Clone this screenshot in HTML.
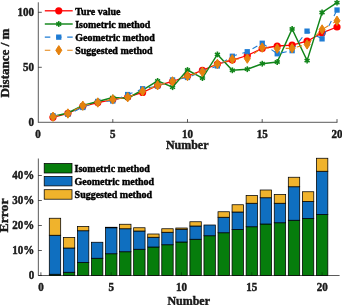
<!DOCTYPE html>
<html><head><meta charset="utf-8"><title>chart</title>
<style>html,body{margin:0;padding:0;background:#fff;}body{width:342px;height:305px;overflow:hidden;position:relative;font-family:"Liberation Serif",serif;}</style></head>
<body>
<svg width="342" height="305" viewBox="0 0 342 305" style="position:absolute;left:0;top:0;will-change:transform;font-family:'Liberation Serif',serif;font-weight:bold;">
<rect width="342" height="305" fill="#fff"/>
<g stroke="#1a1a1a" stroke-width="0.72" fill="none">
<line x1="38.3" y1="2.3" x2="38.3" y2="122.7"/>
<line x1="38.3" y1="122.3" x2="337.4" y2="122.3"/>
<line x1="112.8" y1="122.3" x2="112.8" y2="119.1"/>
<line x1="187.5" y1="122.3" x2="187.5" y2="119.1"/>
<line x1="262.2" y1="122.3" x2="262.2" y2="119.1"/>
<line x1="337.0" y1="122.3" x2="337.0" y2="119.1"/>
<line x1="38.3" y1="67.3" x2="41.8" y2="67.3"/>
<line x1="38.3" y1="12.3" x2="41.8" y2="12.3"/>
</g>
<text transform="translate(38.00,138.00) scale(1,1.08)" font-size="11" text-anchor="middle" fill="#1a1a1a" stroke="#1a1a1a" stroke-width="0.42">0</text>
<text transform="translate(112.75,138.00) scale(1,1.08)" font-size="11" text-anchor="middle" fill="#1a1a1a" stroke="#1a1a1a" stroke-width="0.42">5</text>
<text transform="translate(187.50,138.00) scale(1,1.08)" font-size="11" text-anchor="middle" fill="#1a1a1a" stroke="#1a1a1a" stroke-width="0.42">10</text>
<text transform="translate(262.25,138.00) scale(1,1.08)" font-size="11" text-anchor="middle" fill="#1a1a1a" stroke="#1a1a1a" stroke-width="0.42">15</text>
<text transform="translate(337.00,138.00) scale(1,1.08)" font-size="11" text-anchor="middle" fill="#1a1a1a" stroke="#1a1a1a" stroke-width="0.42">20</text>
<text transform="translate(34.00,126.30) scale(1,1.08)" font-size="11" text-anchor="end" fill="#1a1a1a" stroke="#1a1a1a" stroke-width="0.42">0</text>
<text transform="translate(34.00,71.30) scale(1,1.08)" font-size="11" text-anchor="end" fill="#1a1a1a" stroke="#1a1a1a" stroke-width="0.42">50</text>
<text transform="translate(34.00,16.30) scale(1,1.08)" font-size="11" text-anchor="end" fill="#1a1a1a" stroke="#1a1a1a" stroke-width="0.42">100</text>
<text transform="translate(187.20,148.60) scale(1,1.08)" font-size="12" text-anchor="middle" fill="#1a1a1a" stroke="#1a1a1a" stroke-width="0.42">Number</text>
<text transform="translate(9.2,63) rotate(-90) scale(1.08,1)" font-size="12.1" text-anchor="middle" fill="#1a1a1a" stroke="#1a1a1a" stroke-width="0.42">Distance / m</text>
<polyline points="53.0,117.3 67.9,113.4 82.8,106.3 97.8,102.6 112.8,99.6 127.7,97.0 142.6,92.4 157.6,85.5 172.5,81.5 187.5,76.0 202.4,70.3 217.4,64.0 232.3,60.0 247.3,55.5 262.2,48.5 277.2,46.0 292.1,45.2 307.1,41.2 322.1,32.9 337.0,27.0" fill="none" stroke="#ff0000" stroke-width="1.3"/>
<g fill="#ff0000"><circle cx="53.0" cy="117.3" r="3.6"/><circle cx="67.9" cy="113.4" r="3.6"/><circle cx="82.8" cy="106.3" r="3.6"/><circle cx="97.8" cy="102.6" r="3.6"/><circle cx="112.8" cy="99.6" r="3.6"/><circle cx="127.7" cy="97.0" r="3.6"/><circle cx="142.6" cy="92.4" r="3.6"/><circle cx="157.6" cy="85.5" r="3.6"/><circle cx="172.5" cy="81.5" r="3.6"/><circle cx="187.5" cy="76.0" r="3.6"/><circle cx="202.4" cy="70.3" r="3.6"/><circle cx="217.4" cy="64.0" r="3.6"/><circle cx="232.3" cy="60.0" r="3.6"/><circle cx="247.3" cy="55.5" r="3.6"/><circle cx="262.2" cy="48.5" r="3.6"/><circle cx="277.2" cy="46.0" r="3.6"/><circle cx="292.1" cy="45.2" r="3.6"/><circle cx="307.1" cy="41.2" r="3.6"/><circle cx="322.1" cy="32.9" r="3.6"/><circle cx="337.0" cy="27.0" r="3.6"/></g>
<polyline points="53.0,116.5 67.9,113.0 82.8,105.5 97.8,101.5 112.8,97.6 127.7,98.2 142.6,90.0 157.6,80.9 172.5,87.2 187.5,70.0 202.4,78.1 217.4,54.4 232.3,70.3 247.3,69.2 262.2,63.7 277.2,62.0 292.1,28.9 307.1,60.6 322.1,12.5 337.0,2.7" fill="none" stroke="#11851a" stroke-width="1.45"/>
<g stroke="#11851a" stroke-width="1.6"><line x1="52.95" y1="113.60" x2="52.95" y2="119.40"/><line x1="55.46" y1="115.05" x2="50.44" y2="117.95"/><line x1="55.46" y1="117.95" x2="50.44" y2="115.05"/><line x1="67.90" y1="110.10" x2="67.90" y2="115.90"/><line x1="70.41" y1="111.55" x2="65.39" y2="114.45"/><line x1="70.41" y1="114.45" x2="65.39" y2="111.55"/><line x1="82.85" y1="102.60" x2="82.85" y2="108.40"/><line x1="85.36" y1="104.05" x2="80.34" y2="106.95"/><line x1="85.36" y1="106.95" x2="80.34" y2="104.05"/><line x1="97.80" y1="98.60" x2="97.80" y2="104.40"/><line x1="100.31" y1="100.05" x2="95.29" y2="102.95"/><line x1="100.31" y1="102.95" x2="95.29" y2="100.05"/><line x1="112.75" y1="94.70" x2="112.75" y2="100.50"/><line x1="115.26" y1="96.15" x2="110.24" y2="99.05"/><line x1="115.26" y1="99.05" x2="110.24" y2="96.15"/><line x1="127.70" y1="95.30" x2="127.70" y2="101.10"/><line x1="130.21" y1="96.75" x2="125.19" y2="99.65"/><line x1="130.21" y1="99.65" x2="125.19" y2="96.75"/><line x1="142.65" y1="87.10" x2="142.65" y2="92.90"/><line x1="145.16" y1="88.55" x2="140.14" y2="91.45"/><line x1="145.16" y1="91.45" x2="140.14" y2="88.55"/><line x1="157.60" y1="78.00" x2="157.60" y2="83.80"/><line x1="160.11" y1="79.45" x2="155.09" y2="82.35"/><line x1="160.11" y1="82.35" x2="155.09" y2="79.45"/><line x1="172.55" y1="84.30" x2="172.55" y2="90.10"/><line x1="175.06" y1="85.75" x2="170.04" y2="88.65"/><line x1="175.06" y1="88.65" x2="170.04" y2="85.75"/><line x1="187.50" y1="67.10" x2="187.50" y2="72.90"/><line x1="190.01" y1="68.55" x2="184.99" y2="71.45"/><line x1="190.01" y1="71.45" x2="184.99" y2="68.55"/><line x1="202.45" y1="75.20" x2="202.45" y2="81.00"/><line x1="204.96" y1="76.65" x2="199.94" y2="79.55"/><line x1="204.96" y1="79.55" x2="199.94" y2="76.65"/><line x1="217.40" y1="51.50" x2="217.40" y2="57.30"/><line x1="219.91" y1="52.95" x2="214.89" y2="55.85"/><line x1="219.91" y1="55.85" x2="214.89" y2="52.95"/><line x1="232.35" y1="67.40" x2="232.35" y2="73.20"/><line x1="234.86" y1="68.85" x2="229.84" y2="71.75"/><line x1="234.86" y1="71.75" x2="229.84" y2="68.85"/><line x1="247.30" y1="66.30" x2="247.30" y2="72.10"/><line x1="249.81" y1="67.75" x2="244.79" y2="70.65"/><line x1="249.81" y1="70.65" x2="244.79" y2="67.75"/><line x1="262.25" y1="60.80" x2="262.25" y2="66.60"/><line x1="264.76" y1="62.25" x2="259.74" y2="65.15"/><line x1="264.76" y1="65.15" x2="259.74" y2="62.25"/><line x1="277.20" y1="59.10" x2="277.20" y2="64.90"/><line x1="279.71" y1="60.55" x2="274.69" y2="63.45"/><line x1="279.71" y1="63.45" x2="274.69" y2="60.55"/><line x1="292.15" y1="26.00" x2="292.15" y2="31.80"/><line x1="294.66" y1="27.45" x2="289.64" y2="30.35"/><line x1="294.66" y1="30.35" x2="289.64" y2="27.45"/><line x1="307.10" y1="57.70" x2="307.10" y2="63.50"/><line x1="309.61" y1="59.15" x2="304.59" y2="62.05"/><line x1="309.61" y1="62.05" x2="304.59" y2="59.15"/><line x1="322.05" y1="9.60" x2="322.05" y2="15.40"/><line x1="324.56" y1="11.05" x2="319.54" y2="13.95"/><line x1="324.56" y1="13.95" x2="319.54" y2="11.05"/><line x1="337.00" y1="-0.20" x2="337.00" y2="5.60"/><line x1="339.51" y1="1.25" x2="334.49" y2="4.15"/><line x1="339.51" y1="4.15" x2="334.49" y2="1.25"/></g>
<polyline points="53.0,115.8 67.9,114.3 82.8,107.4 97.8,101.5 112.8,101.0 127.7,94.6 142.6,88.8 157.6,86.0 172.5,80.0 187.5,77.5 202.4,71.5 217.4,65.9 232.3,56.2 247.3,51.7 262.2,43.2 277.2,53.7 292.1,50.6 307.1,31.1 322.1,38.9 337.0,10.1" fill="none" stroke="#1f7cd4" stroke-width="1.1" stroke-dasharray="5.5,5.7"/>
<g fill="#1f7cd4"><rect x="50.3" y="113.1" width="5.3" height="5.3"/><rect x="65.2" y="111.6" width="5.3" height="5.3"/><rect x="80.2" y="104.8" width="5.3" height="5.3"/><rect x="95.1" y="98.8" width="5.3" height="5.3"/><rect x="110.1" y="98.3" width="5.3" height="5.3"/><rect x="125.0" y="91.9" width="5.3" height="5.3"/><rect x="140.0" y="86.1" width="5.3" height="5.3"/><rect x="154.9" y="83.3" width="5.3" height="5.3"/><rect x="169.9" y="77.3" width="5.3" height="5.3"/><rect x="184.8" y="74.8" width="5.3" height="5.3"/><rect x="199.8" y="68.8" width="5.3" height="5.3"/><rect x="214.7" y="63.3" width="5.3" height="5.3"/><rect x="229.7" y="53.6" width="5.3" height="5.3"/><rect x="244.6" y="49.1" width="5.3" height="5.3"/><rect x="259.6" y="40.6" width="5.3" height="5.3"/><rect x="274.6" y="51.1" width="5.3" height="5.3"/><rect x="289.5" y="48.0" width="5.3" height="5.3"/><rect x="304.4" y="28.5" width="5.3" height="5.3"/><rect x="319.4" y="36.2" width="5.3" height="5.3"/><rect x="334.4" y="7.4" width="5.3" height="5.3"/></g>
<polyline points="53.0,116.7 67.9,113.5 82.8,105.7 97.8,102.5 112.8,99.4 127.7,97.2 142.6,91.3 157.6,85.3 172.5,81.4 187.5,76.0 202.4,71.9 217.4,63.9 232.3,59.3 247.3,58.6 262.2,47.6 277.2,48.6 292.1,48.2 307.1,44.4 322.1,29.5 337.0,20.8" fill="none" stroke="#e5820e" stroke-width="1.1" stroke-dasharray="5.5,5.7"/>
<g fill="#e5820e"><path d="M53.0 112.0 l3.0 4.7 l-3.0 4.7 l-3.0 -4.7 z" stroke="#e5820e" stroke-width="1" stroke-linejoin="round"/><path d="M67.9 108.8 l3.0 4.7 l-3.0 4.7 l-3.0 -4.7 z" stroke="#e5820e" stroke-width="1" stroke-linejoin="round"/><path d="M82.8 101.0 l3.0 4.7 l-3.0 4.7 l-3.0 -4.7 z" stroke="#e5820e" stroke-width="1" stroke-linejoin="round"/><path d="M97.8 97.8 l3.0 4.7 l-3.0 4.7 l-3.0 -4.7 z" stroke="#e5820e" stroke-width="1" stroke-linejoin="round"/><path d="M112.8 94.7 l3.0 4.7 l-3.0 4.7 l-3.0 -4.7 z" stroke="#e5820e" stroke-width="1" stroke-linejoin="round"/><path d="M127.7 92.5 l3.0 4.7 l-3.0 4.7 l-3.0 -4.7 z" stroke="#e5820e" stroke-width="1" stroke-linejoin="round"/><path d="M142.6 86.6 l3.0 4.7 l-3.0 4.7 l-3.0 -4.7 z" stroke="#e5820e" stroke-width="1" stroke-linejoin="round"/><path d="M157.6 80.6 l3.0 4.7 l-3.0 4.7 l-3.0 -4.7 z" stroke="#e5820e" stroke-width="1" stroke-linejoin="round"/><path d="M172.5 76.7 l3.0 4.7 l-3.0 4.7 l-3.0 -4.7 z" stroke="#e5820e" stroke-width="1" stroke-linejoin="round"/><path d="M187.5 71.3 l3.0 4.7 l-3.0 4.7 l-3.0 -4.7 z" stroke="#e5820e" stroke-width="1" stroke-linejoin="round"/><path d="M202.4 67.2 l3.0 4.7 l-3.0 4.7 l-3.0 -4.7 z" stroke="#e5820e" stroke-width="1" stroke-linejoin="round"/><path d="M217.4 59.2 l3.0 4.7 l-3.0 4.7 l-3.0 -4.7 z" stroke="#e5820e" stroke-width="1" stroke-linejoin="round"/><path d="M232.3 54.6 l3.0 4.7 l-3.0 4.7 l-3.0 -4.7 z" stroke="#e5820e" stroke-width="1" stroke-linejoin="round"/><path d="M247.3 53.9 l3.0 4.7 l-3.0 4.7 l-3.0 -4.7 z" stroke="#e5820e" stroke-width="1" stroke-linejoin="round"/><path d="M262.2 42.9 l3.0 4.7 l-3.0 4.7 l-3.0 -4.7 z" stroke="#e5820e" stroke-width="1" stroke-linejoin="round"/><path d="M277.2 43.9 l3.0 4.7 l-3.0 4.7 l-3.0 -4.7 z" stroke="#e5820e" stroke-width="1" stroke-linejoin="round"/><path d="M292.1 43.5 l3.0 4.7 l-3.0 4.7 l-3.0 -4.7 z" stroke="#e5820e" stroke-width="1" stroke-linejoin="round"/><path d="M307.1 39.7 l3.0 4.7 l-3.0 4.7 l-3.0 -4.7 z" stroke="#e5820e" stroke-width="1" stroke-linejoin="round"/><path d="M322.1 24.8 l3.0 4.7 l-3.0 4.7 l-3.0 -4.7 z" stroke="#e5820e" stroke-width="1" stroke-linejoin="round"/><path d="M337.0 16.1 l3.0 4.7 l-3.0 4.7 l-3.0 -4.7 z" stroke="#e5820e" stroke-width="1" stroke-linejoin="round"/></g>
<line x1="44.8" y1="10.8" x2="72.7" y2="10.8" stroke="#ff0000" stroke-width="1.3"/><circle cx="58.75" cy="10.8" r="3.6" fill="#ff0000"/>
<line x1="44.8" y1="24.0" x2="72.7" y2="24.0" stroke="#11851a" stroke-width="1.45"/><g stroke="#11851a" stroke-width="1.6"><line x1="58.75" y1="21.10" x2="58.75" y2="26.90"/><line x1="61.26" y1="22.55" x2="56.24" y2="25.45"/><line x1="61.26" y1="25.45" x2="56.24" y2="22.55"/></g>
<line x1="44.8" y1="37.1" x2="72.7" y2="37.1" stroke="#1f7cd4" stroke-width="1.1" stroke-dasharray="5.5,5.7"/><g fill="#1f7cd4"><rect x="56.1" y="34.5" width="5.3" height="5.3"/></g>
<line x1="44.8" y1="50.3" x2="72.7" y2="50.3" stroke="#e5820e" stroke-width="1.1" stroke-dasharray="5.5,5.7"/><g fill="#e5820e"><path d="M58.8 45.6 l3.0 4.7 l-3.0 4.7 l-3.0 -4.7 z" stroke="#e5820e" stroke-width="1" stroke-linejoin="round"/></g>
<text transform="translate(75.20,14.80) scale(1,1.08)" font-size="10" text-anchor="start" fill="#000" stroke="#000" stroke-width="0.42">Ture value</text>
<text transform="translate(75.20,27.90) scale(1,1.08)" font-size="10" text-anchor="start" fill="#000" stroke="#000" stroke-width="0.42">Isometric method</text>
<text transform="translate(75.20,40.70) scale(1,1.08)" font-size="10" text-anchor="start" fill="#000" stroke="#000" stroke-width="0.42">Geometric method</text>
<text transform="translate(75.20,53.90) scale(1,1.08)" font-size="10" text-anchor="start" fill="#000" stroke="#000" stroke-width="0.42">Suggested method</text>
<g stroke="#1a1a1a" stroke-width="0.72" fill="none">
<line x1="38.35" y1="158.5" x2="38.35" y2="275.5"/>
<line x1="38.35" y1="275.5" x2="339.6" y2="275.5"/>
<line x1="40.9" y1="275.5" x2="40.9" y2="272.3"/>
<line x1="111.2" y1="275.5" x2="111.2" y2="272.3"/>
<line x1="181.5" y1="275.5" x2="181.5" y2="272.3"/>
<line x1="251.8" y1="275.5" x2="251.8" y2="272.3"/>
<line x1="322.1" y1="275.5" x2="322.1" y2="272.3"/>
<line x1="38.35" y1="275.5" x2="41.85" y2="275.5"/>
<line x1="38.35" y1="250.5" x2="41.85" y2="250.5"/>
<line x1="38.35" y1="225.5" x2="41.85" y2="225.5"/>
<line x1="38.35" y1="200.5" x2="41.85" y2="200.5"/>
<line x1="38.35" y1="175.5" x2="41.85" y2="175.5"/>
</g>
<text transform="translate(40.93,291.40) scale(1,1.08)" font-size="11" text-anchor="middle" fill="#1a1a1a" stroke="#1a1a1a" stroke-width="0.42">0</text>
<text transform="translate(111.23,291.40) scale(1,1.08)" font-size="11" text-anchor="middle" fill="#1a1a1a" stroke="#1a1a1a" stroke-width="0.42">5</text>
<text transform="translate(181.53,291.40) scale(1,1.08)" font-size="11" text-anchor="middle" fill="#1a1a1a" stroke="#1a1a1a" stroke-width="0.42">10</text>
<text transform="translate(251.83,291.40) scale(1,1.08)" font-size="11" text-anchor="middle" fill="#1a1a1a" stroke="#1a1a1a" stroke-width="0.42">15</text>
<text transform="translate(322.13,291.40) scale(1,1.08)" font-size="11" text-anchor="middle" fill="#1a1a1a" stroke="#1a1a1a" stroke-width="0.42">20</text>
<text transform="translate(34.35,279.20) scale(1,1.08)" font-size="11" text-anchor="end" fill="#1a1a1a" stroke="#1a1a1a" stroke-width="0.42">0</text>
<text transform="translate(34.35,254.20) scale(1,1.08)" font-size="11" text-anchor="end" fill="#1a1a1a" stroke="#1a1a1a" stroke-width="0.42">10%</text>
<text transform="translate(34.35,229.20) scale(1,1.08)" font-size="11" text-anchor="end" fill="#1a1a1a" stroke="#1a1a1a" stroke-width="0.42">20%</text>
<text transform="translate(34.35,204.20) scale(1,1.08)" font-size="11" text-anchor="end" fill="#1a1a1a" stroke="#1a1a1a" stroke-width="0.42">30%</text>
<text transform="translate(34.35,179.20) scale(1,1.08)" font-size="11" text-anchor="end" fill="#1a1a1a" stroke="#1a1a1a" stroke-width="0.42">40%</text>
<text transform="translate(188.70,304.50) scale(1,1.08)" font-size="12" text-anchor="middle" fill="#1a1a1a" stroke="#1a1a1a" stroke-width="0.42">Number</text>
<text transform="translate(8.2,215.5) rotate(-90) scale(1.13,1)" font-size="12.1" text-anchor="middle" fill="#1a1a1a" stroke="#1a1a1a" stroke-width="0.42">Error</text>
<g stroke="#000" stroke-width="0.75">
<rect x="49.29" y="274.25" width="11.4" height="1.25" fill="#067d0c"/>
<rect x="49.29" y="235.25" width="11.4" height="39.00" fill="#0f6fc0"/>
<rect x="49.29" y="218.25" width="11.4" height="17.00" fill="#f0b32c"/>
<rect x="63.35" y="272.25" width="11.4" height="3.25" fill="#067d0c"/>
<rect x="63.35" y="248.00" width="11.4" height="24.25" fill="#0f6fc0"/>
<rect x="63.35" y="237.50" width="11.4" height="10.50" fill="#f0b32c"/>
<rect x="77.41" y="262.50" width="11.4" height="13.00" fill="#067d0c"/>
<rect x="77.41" y="230.75" width="11.4" height="31.75" fill="#0f6fc0"/>
<rect x="77.41" y="226.50" width="11.4" height="4.25" fill="#f0b32c"/>
<rect x="91.47" y="258.25" width="11.4" height="17.25" fill="#067d0c"/>
<rect x="91.47" y="242.25" width="11.4" height="16.00" fill="#0f6fc0"/>
<rect x="105.53" y="253.75" width="11.4" height="21.75" fill="#067d0c"/>
<rect x="105.53" y="227.75" width="11.4" height="26.00" fill="#0f6fc0"/>
<rect x="105.53" y="227.25" width="11.4" height="0.50" fill="#f0b32c"/>
<rect x="119.59" y="251.75" width="11.4" height="23.75" fill="#067d0c"/>
<rect x="119.59" y="228.75" width="11.4" height="23.00" fill="#0f6fc0"/>
<rect x="119.59" y="224.25" width="11.4" height="4.50" fill="#f0b32c"/>
<rect x="133.65" y="249.25" width="11.4" height="26.25" fill="#067d0c"/>
<rect x="133.65" y="231.00" width="11.4" height="18.25" fill="#0f6fc0"/>
<rect x="133.65" y="227.75" width="11.4" height="3.25" fill="#f0b32c"/>
<rect x="147.71" y="247.00" width="11.4" height="28.50" fill="#067d0c"/>
<rect x="147.71" y="237.25" width="11.4" height="9.75" fill="#0f6fc0"/>
<rect x="147.71" y="234.00" width="11.4" height="3.25" fill="#f0b32c"/>
<rect x="161.77" y="244.75" width="11.4" height="30.75" fill="#067d0c"/>
<rect x="161.77" y="232.25" width="11.4" height="12.50" fill="#0f6fc0"/>
<rect x="161.77" y="228.75" width="11.4" height="3.50" fill="#f0b32c"/>
<rect x="175.83" y="242.00" width="11.4" height="33.50" fill="#067d0c"/>
<rect x="175.83" y="229.25" width="11.4" height="12.75" fill="#0f6fc0"/>
<rect x="175.83" y="228.00" width="11.4" height="1.25" fill="#f0b32c"/>
<rect x="189.89" y="239.25" width="11.4" height="36.25" fill="#067d0c"/>
<rect x="189.89" y="226.00" width="11.4" height="13.25" fill="#0f6fc0"/>
<rect x="189.89" y="221.75" width="11.4" height="4.25" fill="#f0b32c"/>
<rect x="203.95" y="235.75" width="11.4" height="39.75" fill="#067d0c"/>
<rect x="203.95" y="225.00" width="11.4" height="10.75" fill="#0f6fc0"/>
<rect x="218.01" y="232.75" width="11.4" height="42.75" fill="#067d0c"/>
<rect x="218.01" y="217.25" width="11.4" height="15.50" fill="#0f6fc0"/>
<rect x="218.01" y="211.75" width="11.4" height="5.50" fill="#f0b32c"/>
<rect x="232.07" y="229.50" width="11.4" height="46.00" fill="#067d0c"/>
<rect x="232.07" y="212.00" width="11.4" height="17.50" fill="#0f6fc0"/>
<rect x="232.07" y="204.75" width="11.4" height="7.25" fill="#f0b32c"/>
<rect x="246.13" y="226.75" width="11.4" height="48.75" fill="#067d0c"/>
<rect x="246.13" y="203.25" width="11.4" height="23.50" fill="#0f6fc0"/>
<rect x="246.13" y="195.50" width="11.4" height="7.75" fill="#f0b32c"/>
<rect x="260.19" y="224.00" width="11.4" height="51.50" fill="#067d0c"/>
<rect x="260.19" y="197.75" width="11.4" height="26.25" fill="#0f6fc0"/>
<rect x="260.19" y="190.00" width="11.4" height="7.75" fill="#f0b32c"/>
<rect x="274.25" y="222.75" width="11.4" height="52.75" fill="#067d0c"/>
<rect x="274.25" y="203.25" width="11.4" height="19.50" fill="#0f6fc0"/>
<rect x="274.25" y="194.50" width="11.4" height="8.75" fill="#f0b32c"/>
<rect x="288.31" y="220.25" width="11.4" height="55.25" fill="#067d0c"/>
<rect x="288.31" y="186.75" width="11.4" height="33.50" fill="#0f6fc0"/>
<rect x="288.31" y="177.25" width="11.4" height="9.50" fill="#f0b32c"/>
<rect x="302.37" y="218.50" width="11.4" height="57.00" fill="#067d0c"/>
<rect x="302.37" y="201.50" width="11.4" height="17.00" fill="#0f6fc0"/>
<rect x="302.37" y="191.75" width="11.4" height="9.75" fill="#f0b32c"/>
<rect x="316.43" y="214.50" width="11.4" height="61.00" fill="#067d0c"/>
<rect x="316.43" y="171.25" width="11.4" height="43.25" fill="#0f6fc0"/>
<rect x="316.43" y="158.25" width="11.4" height="13.00" fill="#f0b32c"/>
</g>
<line x1="111.2" y1="275.0" x2="111.2" y2="272.3" stroke="#000" stroke-opacity="0.45" stroke-width="0.8"/>
<line x1="181.5" y1="275.0" x2="181.5" y2="272.3" stroke="#000" stroke-opacity="0.45" stroke-width="0.8"/>
<line x1="251.8" y1="275.0" x2="251.8" y2="272.3" stroke="#000" stroke-opacity="0.45" stroke-width="0.8"/>
<line x1="322.1" y1="275.0" x2="322.1" y2="272.3" stroke="#000" stroke-opacity="0.45" stroke-width="0.8"/>
<rect x="44.2" y="163.5" width="27.8" height="9.5" fill="#067d0c" stroke="#000" stroke-width="0.75"/>
<text transform="translate(74.60,171.85) scale(1,1.08)" font-size="10" text-anchor="start" fill="#000" stroke="#000" stroke-width="0.42">Isometric method</text>
<rect x="44.2" y="176.4" width="27.8" height="9.5" fill="#0f6fc0" stroke="#000" stroke-width="0.75"/>
<text transform="translate(74.60,184.75) scale(1,1.08)" font-size="10" text-anchor="start" fill="#000" stroke="#000" stroke-width="0.42">Geometric method</text>
<rect x="44.2" y="189.7" width="27.8" height="9.5" fill="#f0b32c" stroke="#000" stroke-width="0.75"/>
<text transform="translate(74.60,198.05) scale(1,1.08)" font-size="10" text-anchor="start" fill="#000" stroke="#000" stroke-width="0.42">Suggested method</text>
</svg>
</body></html>
